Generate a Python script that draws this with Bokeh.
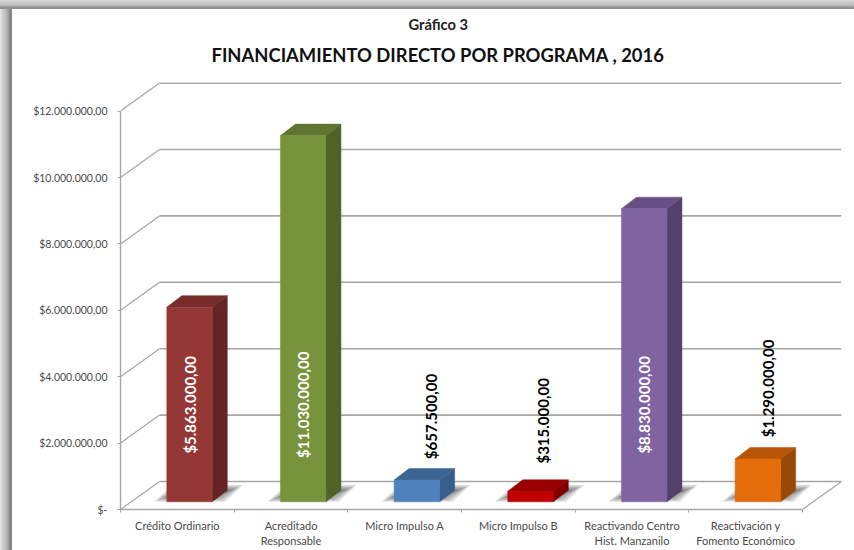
import math
from bokeh.embed import file_html
from bokeh.resources import INLINE
from bokeh.plotting import figure
from bokeh.core.properties import value
from bokeh.models import (FixedTicker, LinearAxis, Range1d, Title)

# ---- data ----
categories = ["Crédito Ordinario", "Acreditado\nResponsable", "Micro Impulso A",
              "Micro Impulso B", "Reactivando Centro\nHist. Manzanilo",
              "Reactivación y\nFomento Económico"]
values = [5863000, 11030000, 657500, 315000, 8830000, 1290000]
value_labels = ["$5.863.000,00", "$11.030.000,00", "$657.500,00",
                "$315.000,00", "$8.830.000,00", "$1.290.000,00"]
y_ticks = [0, 2000000, 4000000, 6000000, 8000000, 10000000, 12000000]
y_tick_labels = ["$-", "$2.000.000,00", "$4.000.000,00", "$6.000.000,00",
                 "$8.000.000,00", "$10.000.000,00", "$12.000.000,00"]
front_colors = ["#953735", "#77933c", "#4f81bd", "#c00000", "#8064a2", "#e46c0a"]
side_colors = ["#632523", "#4f6228", "#385d8a", "#800000", "#54406c", "#984807"]
top_colors = ["#772c2a", "#5f7530", "#3c6491", "#990000", "#664f82", "#b65508"]

# ---- layout (screen px) ----
W, H = 854, 550
LEFT, RIGHT, TOP, BOTTOM = 120.0, 841.0, 82.0, 509.0
PX_PER_CAT = (802.0 - LEFT) / 6
PX_PER_VAL = 398.4 / 12000000
sx = 1 / PX_PER_CAT       # one px in x-units
sy = 1 / PX_PER_VAL       # one px in y-units
WALL_DX, WALL_DY = 39 * sx, 28 * sy
BAR_W, BAR_DX, BAR_DY = 45.5 * sx, 15 * sx, 11.5 * sy
BAR_X0, BAR_Y0 = 46.3 * sx, 7.7 * sy     # offset of bar front-left corner inside its slot

# window shadow of the pasted picture, as the page background of the figure
left_stops = "#e8e8e8,#dcdcdc,#d0d0d0,#cacaca,#c6c6c6,#bebebe,#b4b4b4,#a8a8a8,#9a9a9a,#8c8c8c,#808080,#8a8a8a"
top_stops = "#dadada,#d2d2d2,#cacaca,#c6c6c6,#c2c2c2,#b4b4b4,#a0a0a0,#8c8c8c,#909090"
background = (f"linear-gradient(#fff,#fff) 12px 9px / {W - 12}px {H - 9}px no-repeat,"
              f"linear-gradient(to bottom,{top_stops}) 0 0 / 100% 9px no-repeat,"
              f"linear-gradient(to right,{left_stops}) 0 0 / 12px 100% no-repeat")

p = figure(width=W, height=H, output_backend="svg", toolbar_location=None, title=None,
           x_range=Range1d(0, (RIGHT - LEFT) * sx), y_range=Range1d(0, (BOTTOM - TOP) * sy),
           x_axis_location=None, y_axis_location=None,
           min_border_left=int(LEFT), min_border_right=int(W - RIGHT),
           min_border_top=int(TOP), min_border_bottom=int(H - BOTTOM),
           margin=(0, 0, 0, 0), styles={"background": background})
p.grid.visible = False
p.outline_line_color = None
p.background_fill_color = "white"
p.border_fill_color = None

# wall and floor lines
n = len(categories)
GRID = "#a6a6a6"
p.multi_line([[WALL_DX, n + WALL_DX] for _ in y_ticks],
             [[v + WALL_DY, v + WALL_DY] for v in y_ticks], line_color=GRID, line_width=1.6)
p.multi_line([[0, WALL_DX] for _ in y_ticks], [[v, v + WALL_DY] for v in y_ticks],
             line_color=GRID, line_width=1.2)
p.line([n, n + WALL_DX], [0, WALL_DY], line_color=GRID, line_width=1.2)

# soft shadows on the floor
x_front = [i + BAR_X0 for i in range(n)]
for k in range(8):
    ix, iy = k * 2.2 * sx, k * 1.05 * sy
    p.patches([[x - 13 * sx + ix, x + BAR_W + 13 * sx - ix, x + BAR_W + 31 * sx - ix, x + 6 * sx + ix]
               for x in x_front],
              [[BAR_Y0 + iy, BAR_Y0 + iy, BAR_Y0 + 17 * sy - iy, BAR_Y0 + 17 * sy - iy] for _ in x_front],
              fill_color="#303030", fill_alpha=0.13, line_color=None)

# bars: side, top and front faces through the data scales
p.patches([[x + BAR_W, x + BAR_W + BAR_DX, x + BAR_W + BAR_DX, x + BAR_W] for x in x_front],
          [[BAR_Y0, BAR_Y0 + BAR_DY, BAR_Y0 + v + BAR_DY, BAR_Y0 + v] for v in values],
          fill_color=side_colors, line_color=side_colors, line_width=0.5)
p.patches([[x, x + BAR_DX, x + BAR_W + BAR_DX, x + BAR_W] for x in x_front],
          [[BAR_Y0 + v, BAR_Y0 + v + BAR_DY, BAR_Y0 + v + BAR_DY, BAR_Y0 + v] for v in values],
          fill_color=top_colors, line_color=top_colors, line_width=0.5)
p.quad(left=x_front, right=[x + BAR_W for x in x_front], bottom=BAR_Y0,
       top=[BAR_Y0 + v for v in values], fill_color=front_colors, line_color=front_colors,
       line_width=0.5)

# value labels: inside the tall bars, above the short ones
INSIDE_Y = BAR_Y0 + 97 * sy
outside_dx = {2: 14, 3: 12, 5: 10}
outside_gap = {2: 52, 3: 59, 5: 59}
inside = [v > 5000000 for v in values]
lx, ly = [], []
for i, v in enumerate(values):
    if inside[i]:
        lx.append(x_front[i] + BAR_W / 2)
        ly.append(INSIDE_Y)
    else:
        lx.append(x_front[i] + BAR_W / 2 + outside_dx[i] * sx)
        ly.append(BAR_Y0 + v + BAR_DY + outside_gap[i] * sy)
p.text(lx, ly, text=value_labels, angle=math.pi / 2, text_align="center",
       text_baseline="middle", text_font=value("Lato"), text_font_style="bold",
       text_font_size="15px",
       text_color=["white" if f else "black" for f in inside])

# real axes
FONT = "Lato"
yaxis = LinearAxis(ticker=FixedTicker(ticks=y_ticks), bounds=(0, 12000000),
                   major_label_overrides=dict(zip(y_ticks, y_tick_labels)),
                   axis_line_color=GRID, axis_line_width=1.4, major_tick_line_color=GRID,
                   major_tick_in=0, major_tick_out=3, minor_tick_line_color=None,
                   major_label_text_font=FONT, major_label_text_font_size="10.5px",
                   major_label_text_color="#4a4a4a", major_label_standoff=10)
p.add_layout(yaxis, "left")
xaxis = LinearAxis(ticker=FixedTicker(ticks=[i + 0.5 for i in range(n)], minor_ticks=list(range(n + 1))),
                   bounds=(0, n),
                   major_label_overrides={i + 0.5: c for i, c in enumerate(categories)},
                   axis_line_color=GRID, axis_line_width=1.6, major_tick_line_color=None,
                   major_tick_in=0, major_tick_out=0,
                   minor_tick_line_color=GRID, minor_tick_in=0, minor_tick_out=3,
                   major_label_text_font=FONT,
                   major_label_text_font_size="11px", major_label_text_color="#4a4a4a",
                   major_label_standoff=6)
p.add_layout(xaxis, "below")

# titles: offset runs from the frame's left edge
p.add_layout(Title(text="FINANCIAMIENTO DIRECTO POR PROGRAMA , 2016", align="left", offset=211 - LEFT,
                   standoff=34, text_font="Lato", text_font_style="bold", text_font_size="18.4px",
                   text_color="#111111"), "above")
p.add_layout(Title(text="Gráfico 3", align="left", offset=408 - LEFT, standoff=-16,
                   text_font="Lato", text_font_style="bold", text_font_size="14.7px",
                   text_color="#222222"), "above")

open("out.html", "w").write(file_html(p, INLINE))
